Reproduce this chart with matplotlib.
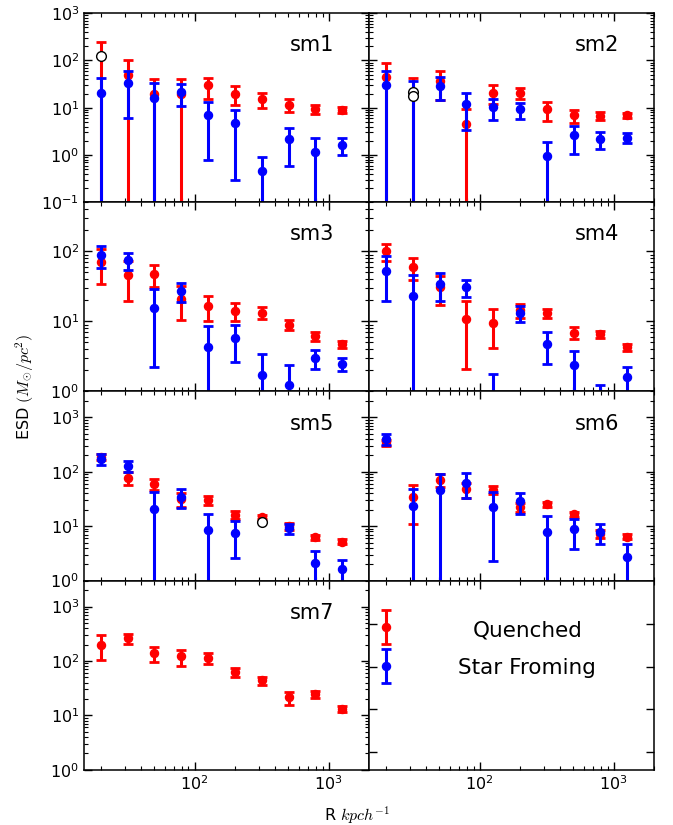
import numpy as np
import matplotlib
matplotlib.use("Agg")
import matplotlib.pyplot as plt

plt.rcParams['font.family'] = ['DejaVu Sans']
plt.rcParams['mathtext.fontset'] = 'cm'

# ---------------- data ----------------
R = [20, 31.7, 50.2, 79.6, 126, 200, 317, 502, 796, 1262]

# Quenched (red) and Star Forming (blue); negative values are drawn as open circles at |value|
sm1_q = [-126, 50, 20, 20, 29.6, 20, 15.2, 11.5, 9.3, 9.1]
sm1_q_err = [377, 50, 20.5, 21, 14, 8.8, 5.5, 3.55, 2.0, 1.2]
sm1_sf = [21, 33, 16.3, 21.4, 6.9, 4.7, 0.46, 2.2, 1.15, 1.66]
sm1_sf_err = [22, 27, 17, 10.4, 6.1, 4.4, 0.47, 1.6, 1.1, 0.68]

sm2_q = [44.7, -21.8, 37.4, 4.6, 21, 21, 9.2, 6.9, 6.7, 6.9]
sm2_q_err = [45.3, 65.4, 22.6, 4.7, 9.2, 5.6, 3.9, 2.15, 1.25, 0.8]
sm2_sf = [29.6, -17.8, 29.3, 12, 10.5, 9.2, 0.95, 2.6, 2.2, 2.35]
sm2_sf_err = [29.8, 54.8, 14.5, 8.6, 5.0, 3.4, 0.97, 1.55, 0.87, 0.56]

sm3_q = [70.5, 46.4, 47, 20.9, 16.6, 14.1, 13.3, 9.0, 6.1, 4.7]
sm3_q_err = [36, 27, 16.2, 10.6, 6.5, 4.0, 2.5, 1.55, 0.9, 0.5]
sm3_sf = [88.6, 75, 15.7, 27, 4.26, 5.8, 1.7, 1.23, 3.0, 2.5]
sm3_sf_err = [30, 21, 13.5, 8.2, 4.3, 3.15, 1.7, 1.17, 0.88, 0.55]

sm4_q = [100, 59, 31, 10.8, 9.6, 14.4, 13, 6.9, 6.5, 4.3]
sm4_q_err = [27, 20.6, 13.8, 8.7, 5.45, 3.2, 1.95, 1.3, 0.8, 0.5]
sm4_sf = [52.4, 22.8, 34.5, 30.7, 0.5, 13.3, 4.8, 2.4, 0.6, 1.6]
sm4_sf_err = [32.6, 22.7, 14.8, 8.7, 1.28, 3.45, 2.35, 1.4, 0.65, 0.65]

sm5_q = [187, 78, 60, 31.4, 30, 16.2, 14.9, 9.9, 6.3, 5.2]
sm5_q_err = [23, 20.5, 14.3, 9.0, 5.35, 2.7, 1.3, 1.35, 0.65, 0.5]
sm5_sf = [173, 128, 21, 35, 8.5, 7.6, -11.7, 9.1, 2.1, 1.6]
sm5_sf_err = [38, 28, 21.1, 13.5, 8.0, 5.0, 2.3, 1.8, 1.45, 0.8]

sm6_q = [348, 34, 72, 48, 46, 22.6, 25.3, 16.6, 7.2, 6.4]
sm6_q_err = [44, 23, 19.8, 15.5, 7.7, 4.6, 2.85, 1.8, 1.2, 0.65]
sm6_sf = [400, 24, 46.5, 63, 22.3, 28.8, 7.8, 8.8, 7.8, 2.75]
sm6_sf_err = [91, 24, 45.6, 30.5, 20, 11.7, 7.7, 5.05, 3.1, 1.95]

sm7_q = [200, 262, 139, 121, 114, 63, 44, 21.3, 24.5, 13.2]
sm7_q_err = [96, 56, 45, 39.5, 27, 12, 7.7, 6, 3.3, 1.85]

panel_names = ["sm1", "sm2", "sm3", "sm4", "sm5", "sm6", "sm7"]
legend_labels = ["Quenched", "Star Froming"]
legend_y = [0.755, 0.547]
legend_err = [0.09, 0.09]

# ---------------- figure ----------------
fig, axes = plt.subplots(4, 2, figsize=(6.73, 8.25), dpi=100)
fig.subplots_adjust(left=0.125, right=0.972, top=0.984, bottom=0.067,
                    hspace=0, wspace=0)

panels = [
    (sm1_q, sm1_q_err, sm1_sf, sm1_sf_err),
    (sm2_q, sm2_q_err, sm2_sf, sm2_sf_err),
    (sm3_q, sm3_q_err, sm3_sf, sm3_sf_err),
    (sm4_q, sm4_q_err, sm4_sf, sm4_sf_err),
    (sm5_q, sm5_q_err, sm5_sf, sm5_sf_err),
    (sm6_q, sm6_q_err, sm6_sf, sm6_sf_err),
    (sm7_q, sm7_q_err, None, None),
]
ylims = [(0.1, 1000), (0.1, 1000), (1, 500), (1, 500),
         (1, 3000), (1, 3000), (1, 3000)]

eb_kw = dict(fmt='none', elinewidth=2.2, capsize=3.5, capthick=2.0)
R_arr = np.array(R)


def draw_series(ax, vals, errs, color):
    v = np.array(vals, dtype=float)
    e = np.array(errs, dtype=float)
    ax.errorbar(R_arr, v, yerr=e, ecolor=color, **eb_kw)
    pos = v > 0
    ax.plot(R_arr[pos], v[pos], 'o', color=color, mec=color, ms=5.8)


flat = axes.flatten()
for i, (q, qe, sf, sfe) in enumerate(panels):
    ax = flat[i]
    ax.set_xscale('log')
    ax.set_yscale('log')
    draw_series(ax, q, qe, 'red')
    if sf is not None:
        draw_series(ax, sf, sfe, 'blue')
    # open circles for negative measurements
    for vals in (q, sf):
        if vals is None:
            continue
        v = np.array(vals, dtype=float)
        neg = v < 0
        if neg.any():
            ax.plot(R_arr[neg], -v[neg], 'o', mfc='white', mec='black',
                    mew=1.0, ms=7, zorder=5)
    ax.set_ylim(*ylims[i])
    ax.text(0.80, 0.83, panel_names[i], transform=ax.transAxes,
            ha='center', va='center', fontsize=15)

# legend panel
lax = flat[7]
lax.set_xscale('log')
lax.set_ylim(0, 1)
for lab, y, e, c, ty in zip(legend_labels, legend_y, legend_err,
                            ['red', 'blue'], [0.735, 0.536]):
    lax.errorbar([R[0]], [y], yerr=[e], ecolor=c, **eb_kw)
    lax.plot([R[0]], [y], 'o', color=c, mec=c, ms=5.8)
    lax.text(0.555, ty, lab, transform=lax.transAxes, ha='center',
             va='center', fontsize=15.5)
lax.set_yticks([0.095, 0.32, 0.545, 0.77])
lax.set_yticklabels([])

for i, ax in enumerate(flat):
    ax.set_xlim(15, 2000)
    ax.tick_params(which='both', direction='in', top=True, right=True,
                   labelsize=11.5)
    ax.tick_params(which='major', length=5.5, width=1)
    ax.tick_params(which='minor', length=2.8, width=0.8)
    for sp in ax.spines.values():
        sp.set_linewidth(1.1)
    if i % 2 == 1:
        ax.tick_params(labelleft=False)
    if i < 6:
        ax.tick_params(labelbottom=False)

fig.text(0.037, 0.531, r'ESD $(M_{\odot}/pc^2)$', rotation=90,
         ha='center', va='center', fontsize=11.5)
fig.text(0.53, 0.012, r'R $kpch^{-1}$', ha='center', va='center',
         fontsize=11.5)

fig.savefig('out.png', dpi=100)
